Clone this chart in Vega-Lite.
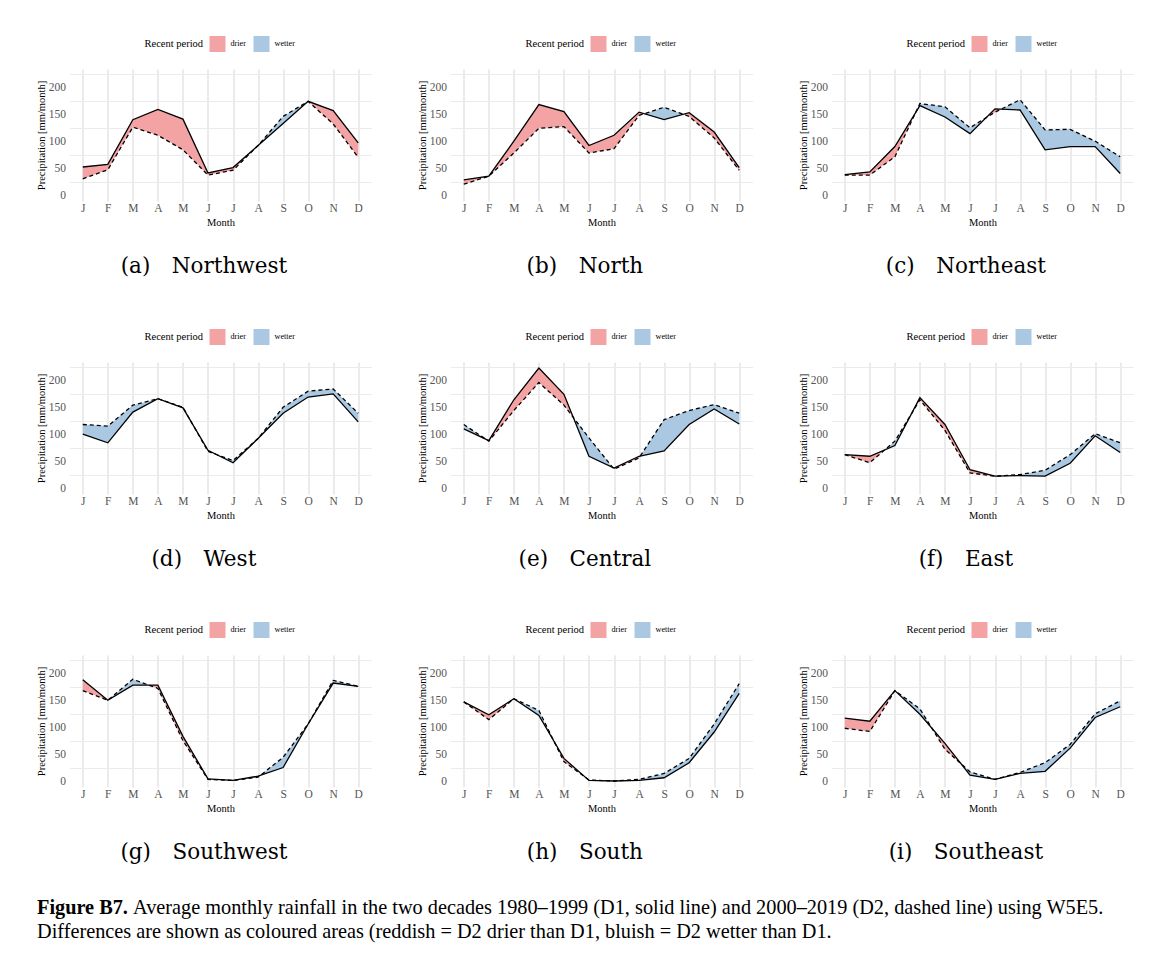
{
  "$schema": "https://vega.github.io/schema/vega-lite/v6.json",
  "background": "white",
  "padding": {"left": 35.5, "top": 36, "right": 5, "bottom": 5},
  "datasets": {
    "rain": [
      {"r":"Northwest","m":1,"d1":52,"d2":30,"pt":"month"},{"r":"Northwest","m":2,"d1":57,"d2":47,"pt":"month"},{"r":"Northwest","m":3,"d1":140,"d2":126,"pt":"month"},{"r":"Northwest","m":4,"d1":159,"d2":111,"pt":"month"},{"r":"Northwest","m":5,"d1":141,"d2":84,"pt":"month"},{"r":"Northwest","m":6,"d1":41,"d2":37,"pt":"month"},{"r":"Northwest","m":7,"d1":51,"d2":46,"pt":"month"},{"r":"Northwest","m":8,"d1":92,"d2":92,"pt":"month"},{"r":"Northwest","m":9,"d1":133,"d2":146,"pt":"month"},{"r":"Northwest","m":10,"d1":174,"d2":174,"pt":"month"},{"r":"Northwest","m":11,"d1":157,"d2":132,"pt":"month"},{"r":"Northwest","m":12,"d1":97,"d2":70,"pt":"month"},
      {"r":"North","m":1,"d1":28,"d2":20,"pt":"month"},{"r":"North","m":2,"d1":35,"d2":35,"pt":"month"},{"r":"North","m":3,"d1":100,"d2":78,"pt":"month"},{"r":"North","m":4,"d1":168,"d2":124,"pt":"month"},{"r":"North","m":5,"d1":155,"d2":127,"pt":"month"},{"r":"North","m":6,"d1":92,"d2":78,"pt":"month"},{"r":"North","m":7,"d1":111,"d2":86,"pt":"month"},{"r":"North","m":8,"d1":154,"d2":148,"pt":"month"},{"r":"North","m":9,"d1":140,"d2":163,"pt":"month"},{"r":"North","m":10,"d1":153,"d2":146,"pt":"month"},{"r":"North","m":11,"d1":117,"d2":106,"pt":"month"},{"r":"North","m":12,"d1":51,"d2":46,"pt":"month"},
      {"r":"North","m":8.2069,"d1":151.1,"d2":151.1,"pt":"cross"},{"r":"North","m":9.7667,"d1":149.97,"d2":149.97,"pt":"cross"},
      {"r":"Northeast","m":1,"d1":38,"d2":37,"pt":"month"},{"r":"Northeast","m":2,"d1":43,"d2":37,"pt":"month"},{"r":"Northeast","m":3,"d1":90,"d2":71,"pt":"month"},{"r":"Northeast","m":4,"d1":166,"d2":170,"pt":"month"},{"r":"Northeast","m":5,"d1":145,"d2":164,"pt":"month"},{"r":"Northeast","m":6,"d1":114,"d2":125,"pt":"month"},{"r":"Northeast","m":7,"d1":160,"d2":154,"pt":"month"},{"r":"Northeast","m":8,"d1":158,"d2":177,"pt":"month"},{"r":"Northeast","m":9,"d1":84,"d2":121,"pt":"month"},{"r":"Northeast","m":10,"d1":90,"d2":122,"pt":"month"},{"r":"Northeast","m":11,"d1":90,"d2":100,"pt":"month"},{"r":"Northeast","m":12,"d1":40,"d2":71,"pt":"month"},
      {"r":"Northeast","m":3.8261,"d1":152.78,"d2":152.78,"pt":"cross"},{"r":"Northeast","m":6.6471,"d1":143.76,"d2":143.76,"pt":"cross"},{"r":"Northeast","m":7.24,"d1":159.52,"d2":159.52,"pt":"cross"},
      {"r":"West","m":1,"d1":100,"d2":118,"pt":"month"},{"r":"West","m":2,"d1":84,"d2":115,"pt":"month"},{"r":"West","m":3,"d1":141,"d2":154,"pt":"month"},{"r":"West","m":4,"d1":166,"d2":166,"pt":"month"},{"r":"West","m":5,"d1":149,"d2":150,"pt":"month"},{"r":"West","m":6,"d1":70,"d2":68,"pt":"month"},{"r":"West","m":7,"d1":47,"d2":51,"pt":"month"},{"r":"West","m":8,"d1":92,"d2":92,"pt":"month"},{"r":"West","m":9,"d1":139,"d2":150,"pt":"month"},{"r":"West","m":10,"d1":169,"d2":180,"pt":"month"},{"r":"West","m":11,"d1":175,"d2":184,"pt":"month"},{"r":"West","m":12,"d1":123,"d2":139,"pt":"month"},
      {"r":"West","m":5.3333,"d1":122.667,"d2":122.667,"pt":"cross"},{"r":"West","m":6.3333,"d1":62.333,"d2":62.333,"pt":"cross"},
      {"r":"Central","m":1,"d1":110,"d2":118,"pt":"month"},{"r":"Central","m":2,"d1":88,"d2":87,"pt":"month"},{"r":"Central","m":3,"d1":164,"d2":144,"pt":"month"},{"r":"Central","m":4,"d1":223,"d2":196,"pt":"month"},{"r":"Central","m":5,"d1":174,"d2":154,"pt":"month"},{"r":"Central","m":6,"d1":59,"d2":93,"pt":"month"},{"r":"Central","m":7,"d1":37,"d2":35,"pt":"month"},{"r":"Central","m":8,"d1":59,"d2":56,"pt":"month"},{"r":"Central","m":9,"d1":69,"d2":127,"pt":"month"},{"r":"Central","m":10,"d1":118,"d2":144,"pt":"month"},{"r":"Central","m":11,"d1":147,"d2":155,"pt":"month"},{"r":"Central","m":12,"d1":119,"d2":139,"pt":"month"},
      {"r":"Central","m":1.8889,"d1":90.444,"d2":90.444,"pt":"cross"},{"r":"Central","m":5.3704,"d1":131.407,"d2":131.407,"pt":"cross"},{"r":"Central","m":6.9444,"d1":38.222,"d2":38.222,"pt":"cross"},{"r":"Central","m":8.0492,"d1":59.492,"d2":59.492,"pt":"cross"},
      {"r":"East","m":1,"d1":62,"d2":62,"pt":"month"},{"r":"East","m":2,"d1":59,"d2":47,"pt":"month"},{"r":"East","m":3,"d1":79,"d2":87,"pt":"month"},{"r":"East","m":4,"d1":168,"d2":164,"pt":"month"},{"r":"East","m":5,"d1":118,"d2":107,"pt":"month"},{"r":"East","m":6,"d1":34,"d2":28,"pt":"month"},{"r":"East","m":7,"d1":22,"d2":22,"pt":"month"},{"r":"East","m":8,"d1":23,"d2":25,"pt":"month"},{"r":"East","m":9,"d1":22,"d2":33,"pt":"month"},{"r":"East","m":10,"d1":46,"d2":62,"pt":"month"},{"r":"East","m":11,"d1":97,"d2":101,"pt":"month"},{"r":"East","m":12,"d1":66,"d2":84,"pt":"month"},
      {"r":"East","m":2.6,"d1":71,"d2":71,"pt":"cross"},{"r":"East","m":3.6667,"d1":138.333,"d2":138.333,"pt":"cross"},
      {"r":"Southwest","m":1,"d1":188,"d2":168,"pt":"month"},{"r":"Southwest","m":2,"d1":150,"d2":150,"pt":"month"},{"r":"Southwest","m":3,"d1":178,"d2":189,"pt":"month"},{"r":"Southwest","m":4,"d1":178,"d2":172,"pt":"month"},{"r":"Southwest","m":5,"d1":83,"d2":75,"pt":"month"},{"r":"Southwest","m":6,"d1":4,"d2":3,"pt":"month"},{"r":"Southwest","m":7,"d1":1,"d2":1,"pt":"month"},{"r":"Southwest","m":8,"d1":9,"d2":7,"pt":"month"},{"r":"Southwest","m":9,"d1":25,"d2":44,"pt":"month"},{"r":"Southwest","m":10,"d1":106,"d2":106,"pt":"month"},{"r":"Southwest","m":11,"d1":182,"d2":187,"pt":"month"},{"r":"Southwest","m":12,"d1":176,"d2":176,"pt":"month"},
      {"r":"Southwest","m":3.6471,"d1":178,"d2":178,"pt":"cross"},{"r":"Southwest","m":8.0952,"d1":10.524,"d2":10.524,"pt":"cross"},
      {"r":"South","m":1,"d1":147,"d2":147,"pt":"month"},{"r":"South","m":2,"d1":123,"d2":114,"pt":"month"},{"r":"South","m":3,"d1":153,"d2":153,"pt":"month"},{"r":"South","m":4,"d1":122,"d2":131,"pt":"month"},{"r":"South","m":5,"d1":42,"d2":36,"pt":"month"},{"r":"South","m":6,"d1":1,"d2":2,"pt":"month"},{"r":"South","m":7,"d1":0,"d2":0,"pt":"month"},{"r":"South","m":8,"d1":1,"d2":3,"pt":"month"},{"r":"South","m":9,"d1":6,"d2":14,"pt":"month"},{"r":"South","m":10,"d1":34,"d2":42,"pt":"month"},{"r":"South","m":11,"d1":91,"d2":106,"pt":"month"},{"r":"South","m":12,"d1":163,"d2":181,"pt":"month"},
      {"r":"South","m":4.6,"d1":74,"d2":74,"pt":"cross"},{"r":"South","m":5.8571,"d1":6.857,"d2":6.857,"pt":"cross"},
      {"r":"Southeast","m":1,"d1":117,"d2":98,"pt":"month"},{"r":"Southeast","m":2,"d1":111,"d2":92,"pt":"month"},{"r":"Southeast","m":3,"d1":168,"d2":168,"pt":"month"},{"r":"Southeast","m":4,"d1":124,"d2":134,"pt":"month"},{"r":"Southeast","m":5,"d1":70,"d2":59,"pt":"month"},{"r":"Southeast","m":6,"d1":11,"d2":17,"pt":"month"},{"r":"Southeast","m":7,"d1":3,"d2":3,"pt":"month"},{"r":"Southeast","m":8,"d1":14,"d2":16,"pt":"month"},{"r":"Southeast","m":9,"d1":18,"d2":34,"pt":"month"},{"r":"Southeast","m":10,"d1":61,"d2":68,"pt":"month"},{"r":"Southeast","m":11,"d1":118,"d2":125,"pt":"month"},{"r":"Southeast","m":12,"d1":138,"d2":149,"pt":"month"},
      {"r":"Southeast","m":4.4762,"d1":98.286,"d2":98.286,"pt":"cross"},{"r":"Southeast","m":5.6471,"d1":31.824,"d2":31.824,"pt":"cross"}
    ]
  },
  "vconcat": [
    {
      "columns": 3,
      "spacing": {"row": 52, "column": 45},
      "resolve": {"scale": {"color": "independent"}, "legend": {"color": "independent"}},
      "concat": [
        {"width": 302, "height": 132, "title": {"text": "(a)\u2003Northwest"}, "data": {"name": "rain"}, "transform": [{"filter": "datum.r === 'Northwest'"}],
         "encoding": {"x": {"field": "m", "type": "quantitative", "scale": {"domain": [0.47, 12.53], "nice": false, "zero": false}, "axis": {"values": [1,2,3,4,5,6,7,8,9,10,11,12], "tickCount": 24, "labelExpr": "['J','F','M','A','M','J','J','A','S','O','N','D'][datum.value - 1]", "title": "Month"}}},
         "layer": [
           {"transform": [{"filter": "datum.d1 >= datum.d2"}], "mark": {"type": "area", "opacity": 1}, "encoding": {"y": {"field": "d1", "type": "quantitative", "scale": {"domain": [-11.15, 234.15], "nice": false, "zero": false}, "axis": {"values": [25,75,125,175,225], "tickCount": 20, "labelExpr": "format(datum.value - 25, 'd')", "labelOffset": 13.46, "labelOverlap": false, "title": "Precipitation [mm/month]"}}, "y2": {"field": "d2"}, "color": {"datum": "drier", "type": "nominal", "scale": {"domain": ["drier", "wetter"], "range": ["#F4A3A5", "#ABC8E2"]}, "legend": {"title": "Recent period", "orient": "none", "legendX": 75, "legendY": -33, "direction": "horizontal", "titleOrient": "left"}}}},
           {"transform": [{"filter": "datum.d2 >= datum.d1"}], "mark": {"type": "area", "opacity": 1}, "encoding": {"y": {"field": "d2", "type": "quantitative"}, "y2": {"field": "d1"}, "color": {"datum": "wetter", "type": "nominal"}}},
           {"transform": [{"filter": "datum.pt === 'month'"}], "mark": {"type": "line", "color": "black", "strokeWidth": 1.3}, "encoding": {"y": {"field": "d1", "type": "quantitative"}}},
           {"transform": [{"filter": "datum.pt === 'month'"}], "mark": {"type": "line", "color": "black", "strokeWidth": 1.3, "strokeDash": [4, 3]}, "encoding": {"y": {"field": "d2", "type": "quantitative"}}}
         ]},
        {"width": 302, "height": 132, "title": {"text": "(b)\u2003North"}, "data": {"name": "rain"}, "transform": [{"filter": "datum.r === 'North'"}],
         "encoding": {"x": {"field": "m", "type": "quantitative", "scale": {"domain": [0.47, 12.53], "nice": false, "zero": false}, "axis": {"values": [1,2,3,4,5,6,7,8,9,10,11,12], "tickCount": 24, "labelExpr": "['J','F','M','A','M','J','J','A','S','O','N','D'][datum.value - 1]", "title": "Month"}}},
         "layer": [
           {"transform": [{"filter": "datum.d1 >= datum.d2"}], "mark": {"type": "area", "opacity": 1}, "encoding": {"y": {"field": "d1", "type": "quantitative", "scale": {"domain": [-11.15, 234.15], "nice": false, "zero": false}, "axis": {"values": [25,75,125,175,225], "tickCount": 20, "labelExpr": "format(datum.value - 25, 'd')", "labelOffset": 13.46, "labelOverlap": false, "title": "Precipitation [mm/month]"}}, "y2": {"field": "d2"}, "color": {"datum": "drier", "type": "nominal", "scale": {"domain": ["drier", "wetter"], "range": ["#F4A3A5", "#ABC8E2"]}, "legend": {"title": "Recent period", "orient": "none", "legendX": 75, "legendY": -33, "direction": "horizontal", "titleOrient": "left"}}}},
           {"transform": [{"filter": "datum.d2 >= datum.d1"}], "mark": {"type": "area", "opacity": 1}, "encoding": {"y": {"field": "d2", "type": "quantitative"}, "y2": {"field": "d1"}, "color": {"datum": "wetter", "type": "nominal"}}},
           {"transform": [{"filter": "datum.pt === 'month'"}], "mark": {"type": "line", "color": "black", "strokeWidth": 1.3}, "encoding": {"y": {"field": "d1", "type": "quantitative"}}},
           {"transform": [{"filter": "datum.pt === 'month'"}], "mark": {"type": "line", "color": "black", "strokeWidth": 1.3, "strokeDash": [4, 3]}, "encoding": {"y": {"field": "d2", "type": "quantitative"}}}
         ]},
        {"width": 302, "height": 132, "title": {"text": "(c)\u2003Northeast"}, "data": {"name": "rain"}, "transform": [{"filter": "datum.r === 'Northeast'"}],
         "encoding": {"x": {"field": "m", "type": "quantitative", "scale": {"domain": [0.47, 12.53], "nice": false, "zero": false}, "axis": {"values": [1,2,3,4,5,6,7,8,9,10,11,12], "tickCount": 24, "labelExpr": "['J','F','M','A','M','J','J','A','S','O','N','D'][datum.value - 1]", "title": "Month"}}},
         "layer": [
           {"transform": [{"filter": "datum.d1 >= datum.d2"}], "mark": {"type": "area", "opacity": 1}, "encoding": {"y": {"field": "d1", "type": "quantitative", "scale": {"domain": [-11.15, 234.15], "nice": false, "zero": false}, "axis": {"values": [25,75,125,175,225], "tickCount": 20, "labelExpr": "format(datum.value - 25, 'd')", "labelOffset": 13.46, "labelOverlap": false, "title": "Precipitation [mm/month]"}}, "y2": {"field": "d2"}, "color": {"datum": "drier", "type": "nominal", "scale": {"domain": ["drier", "wetter"], "range": ["#F4A3A5", "#ABC8E2"]}, "legend": {"title": "Recent period", "orient": "none", "legendX": 75, "legendY": -33, "direction": "horizontal", "titleOrient": "left"}}}},
           {"transform": [{"filter": "datum.d2 >= datum.d1"}], "mark": {"type": "area", "opacity": 1}, "encoding": {"y": {"field": "d2", "type": "quantitative"}, "y2": {"field": "d1"}, "color": {"datum": "wetter", "type": "nominal"}}},
           {"transform": [{"filter": "datum.pt === 'month'"}], "mark": {"type": "line", "color": "black", "strokeWidth": 1.3}, "encoding": {"y": {"field": "d1", "type": "quantitative"}}},
           {"transform": [{"filter": "datum.pt === 'month'"}], "mark": {"type": "line", "color": "black", "strokeWidth": 1.3, "strokeDash": [4, 3]}, "encoding": {"y": {"field": "d2", "type": "quantitative"}}}
         ]},
        {"width": 302, "height": 132, "title": {"text": "(d)\u2003West"}, "data": {"name": "rain"}, "transform": [{"filter": "datum.r === 'West'"}],
         "encoding": {"x": {"field": "m", "type": "quantitative", "scale": {"domain": [0.47, 12.53], "nice": false, "zero": false}, "axis": {"values": [1,2,3,4,5,6,7,8,9,10,11,12], "tickCount": 24, "labelExpr": "['J','F','M','A','M','J','J','A','S','O','N','D'][datum.value - 1]", "title": "Month"}}},
         "layer": [
           {"transform": [{"filter": "datum.d1 >= datum.d2"}], "mark": {"type": "area", "opacity": 1}, "encoding": {"y": {"field": "d1", "type": "quantitative", "scale": {"domain": [-11.15, 234.15], "nice": false, "zero": false}, "axis": {"values": [25,75,125,175,225], "tickCount": 20, "labelExpr": "format(datum.value - 25, 'd')", "labelOffset": 13.46, "labelOverlap": false, "title": "Precipitation [mm/month]"}}, "y2": {"field": "d2"}, "color": {"datum": "drier", "type": "nominal", "scale": {"domain": ["drier", "wetter"], "range": ["#F4A3A5", "#ABC8E2"]}, "legend": {"title": "Recent period", "orient": "none", "legendX": 75, "legendY": -33, "direction": "horizontal", "titleOrient": "left"}}}},
           {"transform": [{"filter": "datum.d2 >= datum.d1"}], "mark": {"type": "area", "opacity": 1}, "encoding": {"y": {"field": "d2", "type": "quantitative"}, "y2": {"field": "d1"}, "color": {"datum": "wetter", "type": "nominal"}}},
           {"transform": [{"filter": "datum.pt === 'month'"}], "mark": {"type": "line", "color": "black", "strokeWidth": 1.3}, "encoding": {"y": {"field": "d1", "type": "quantitative"}}},
           {"transform": [{"filter": "datum.pt === 'month'"}], "mark": {"type": "line", "color": "black", "strokeWidth": 1.3, "strokeDash": [4, 3]}, "encoding": {"y": {"field": "d2", "type": "quantitative"}}}
         ]},
        {"width": 302, "height": 132, "title": {"text": "(e)\u2003Central"}, "data": {"name": "rain"}, "transform": [{"filter": "datum.r === 'Central'"}],
         "encoding": {"x": {"field": "m", "type": "quantitative", "scale": {"domain": [0.47, 12.53], "nice": false, "zero": false}, "axis": {"values": [1,2,3,4,5,6,7,8,9,10,11,12], "tickCount": 24, "labelExpr": "['J','F','M','A','M','J','J','A','S','O','N','D'][datum.value - 1]", "title": "Month"}}},
         "layer": [
           {"transform": [{"filter": "datum.d1 >= datum.d2"}], "mark": {"type": "area", "opacity": 1}, "encoding": {"y": {"field": "d1", "type": "quantitative", "scale": {"domain": [-11.15, 234.15], "nice": false, "zero": false}, "axis": {"values": [25,75,125,175,225], "tickCount": 20, "labelExpr": "format(datum.value - 25, 'd')", "labelOffset": 13.46, "labelOverlap": false, "title": "Precipitation [mm/month]"}}, "y2": {"field": "d2"}, "color": {"datum": "drier", "type": "nominal", "scale": {"domain": ["drier", "wetter"], "range": ["#F4A3A5", "#ABC8E2"]}, "legend": {"title": "Recent period", "orient": "none", "legendX": 75, "legendY": -33, "direction": "horizontal", "titleOrient": "left"}}}},
           {"transform": [{"filter": "datum.d2 >= datum.d1"}], "mark": {"type": "area", "opacity": 1}, "encoding": {"y": {"field": "d2", "type": "quantitative"}, "y2": {"field": "d1"}, "color": {"datum": "wetter", "type": "nominal"}}},
           {"transform": [{"filter": "datum.pt === 'month'"}], "mark": {"type": "line", "color": "black", "strokeWidth": 1.3}, "encoding": {"y": {"field": "d1", "type": "quantitative"}}},
           {"transform": [{"filter": "datum.pt === 'month'"}], "mark": {"type": "line", "color": "black", "strokeWidth": 1.3, "strokeDash": [4, 3]}, "encoding": {"y": {"field": "d2", "type": "quantitative"}}}
         ]},
        {"width": 302, "height": 132, "title": {"text": "(f)\u2003East"}, "data": {"name": "rain"}, "transform": [{"filter": "datum.r === 'East'"}],
         "encoding": {"x": {"field": "m", "type": "quantitative", "scale": {"domain": [0.47, 12.53], "nice": false, "zero": false}, "axis": {"values": [1,2,3,4,5,6,7,8,9,10,11,12], "tickCount": 24, "labelExpr": "['J','F','M','A','M','J','J','A','S','O','N','D'][datum.value - 1]", "title": "Month"}}},
         "layer": [
           {"transform": [{"filter": "datum.d1 >= datum.d2"}], "mark": {"type": "area", "opacity": 1}, "encoding": {"y": {"field": "d1", "type": "quantitative", "scale": {"domain": [-11.15, 234.15], "nice": false, "zero": false}, "axis": {"values": [25,75,125,175,225], "tickCount": 20, "labelExpr": "format(datum.value - 25, 'd')", "labelOffset": 13.46, "labelOverlap": false, "title": "Precipitation [mm/month]"}}, "y2": {"field": "d2"}, "color": {"datum": "drier", "type": "nominal", "scale": {"domain": ["drier", "wetter"], "range": ["#F4A3A5", "#ABC8E2"]}, "legend": {"title": "Recent period", "orient": "none", "legendX": 75, "legendY": -33, "direction": "horizontal", "titleOrient": "left"}}}},
           {"transform": [{"filter": "datum.d2 >= datum.d1"}], "mark": {"type": "area", "opacity": 1}, "encoding": {"y": {"field": "d2", "type": "quantitative"}, "y2": {"field": "d1"}, "color": {"datum": "wetter", "type": "nominal"}}},
           {"transform": [{"filter": "datum.pt === 'month'"}], "mark": {"type": "line", "color": "black", "strokeWidth": 1.3}, "encoding": {"y": {"field": "d1", "type": "quantitative"}}},
           {"transform": [{"filter": "datum.pt === 'month'"}], "mark": {"type": "line", "color": "black", "strokeWidth": 1.3, "strokeDash": [4, 3]}, "encoding": {"y": {"field": "d2", "type": "quantitative"}}}
         ]},
        {"width": 302, "height": 132, "title": {"text": "(g)\u2003Southwest"}, "data": {"name": "rain"}, "transform": [{"filter": "datum.r === 'Southwest'"}],
         "encoding": {"x": {"field": "m", "type": "quantitative", "scale": {"domain": [0.47, 12.53], "nice": false, "zero": false}, "axis": {"values": [1,2,3,4,5,6,7,8,9,10,11,12], "tickCount": 24, "labelExpr": "['J','F','M','A','M','J','J','A','S','O','N','D'][datum.value - 1]", "title": "Month"}}},
         "layer": [
           {"transform": [{"filter": "datum.d1 >= datum.d2"}], "mark": {"type": "area", "opacity": 1}, "encoding": {"y": {"field": "d1", "type": "quantitative", "scale": {"domain": [-11.15, 234.15], "nice": false, "zero": false}, "axis": {"values": [25,75,125,175,225], "tickCount": 20, "labelExpr": "format(datum.value - 25, 'd')", "labelOffset": 13.46, "labelOverlap": false, "title": "Precipitation [mm/month]"}}, "y2": {"field": "d2"}, "color": {"datum": "drier", "type": "nominal", "scale": {"domain": ["drier", "wetter"], "range": ["#F4A3A5", "#ABC8E2"]}, "legend": {"title": "Recent period", "orient": "none", "legendX": 75, "legendY": -33, "direction": "horizontal", "titleOrient": "left"}}}},
           {"transform": [{"filter": "datum.d2 >= datum.d1"}], "mark": {"type": "area", "opacity": 1}, "encoding": {"y": {"field": "d2", "type": "quantitative"}, "y2": {"field": "d1"}, "color": {"datum": "wetter", "type": "nominal"}}},
           {"transform": [{"filter": "datum.pt === 'month'"}], "mark": {"type": "line", "color": "black", "strokeWidth": 1.3}, "encoding": {"y": {"field": "d1", "type": "quantitative"}}},
           {"transform": [{"filter": "datum.pt === 'month'"}], "mark": {"type": "line", "color": "black", "strokeWidth": 1.3, "strokeDash": [4, 3]}, "encoding": {"y": {"field": "d2", "type": "quantitative"}}}
         ]},
        {"width": 302, "height": 132, "title": {"text": "(h)\u2003South"}, "data": {"name": "rain"}, "transform": [{"filter": "datum.r === 'South'"}],
         "encoding": {"x": {"field": "m", "type": "quantitative", "scale": {"domain": [0.47, 12.53], "nice": false, "zero": false}, "axis": {"values": [1,2,3,4,5,6,7,8,9,10,11,12], "tickCount": 24, "labelExpr": "['J','F','M','A','M','J','J','A','S','O','N','D'][datum.value - 1]", "title": "Month"}}},
         "layer": [
           {"transform": [{"filter": "datum.d1 >= datum.d2"}], "mark": {"type": "area", "opacity": 1}, "encoding": {"y": {"field": "d1", "type": "quantitative", "scale": {"domain": [-11.15, 234.15], "nice": false, "zero": false}, "axis": {"values": [25,75,125,175,225], "tickCount": 20, "labelExpr": "format(datum.value - 25, 'd')", "labelOffset": 13.46, "labelOverlap": false, "title": "Precipitation [mm/month]"}}, "y2": {"field": "d2"}, "color": {"datum": "drier", "type": "nominal", "scale": {"domain": ["drier", "wetter"], "range": ["#F4A3A5", "#ABC8E2"]}, "legend": {"title": "Recent period", "orient": "none", "legendX": 75, "legendY": -33, "direction": "horizontal", "titleOrient": "left"}}}},
           {"transform": [{"filter": "datum.d2 >= datum.d1"}], "mark": {"type": "area", "opacity": 1}, "encoding": {"y": {"field": "d2", "type": "quantitative"}, "y2": {"field": "d1"}, "color": {"datum": "wetter", "type": "nominal"}}},
           {"transform": [{"filter": "datum.pt === 'month'"}], "mark": {"type": "line", "color": "black", "strokeWidth": 1.3}, "encoding": {"y": {"field": "d1", "type": "quantitative"}}},
           {"transform": [{"filter": "datum.pt === 'month'"}], "mark": {"type": "line", "color": "black", "strokeWidth": 1.3, "strokeDash": [4, 3]}, "encoding": {"y": {"field": "d2", "type": "quantitative"}}}
         ]},
        {"width": 302, "height": 132, "title": {"text": "(i)\u2003Southeast"}, "data": {"name": "rain"}, "transform": [{"filter": "datum.r === 'Southeast'"}],
         "encoding": {"x": {"field": "m", "type": "quantitative", "scale": {"domain": [0.47, 12.53], "nice": false, "zero": false}, "axis": {"values": [1,2,3,4,5,6,7,8,9,10,11,12], "tickCount": 24, "labelExpr": "['J','F','M','A','M','J','J','A','S','O','N','D'][datum.value - 1]", "title": "Month"}}},
         "layer": [
           {"transform": [{"filter": "datum.d1 >= datum.d2"}], "mark": {"type": "area", "opacity": 1}, "encoding": {"y": {"field": "d1", "type": "quantitative", "scale": {"domain": [-11.15, 234.15], "nice": false, "zero": false}, "axis": {"values": [25,75,125,175,225], "tickCount": 20, "labelExpr": "format(datum.value - 25, 'd')", "labelOffset": 13.46, "labelOverlap": false, "title": "Precipitation [mm/month]"}}, "y2": {"field": "d2"}, "color": {"datum": "drier", "type": "nominal", "scale": {"domain": ["drier", "wetter"], "range": ["#F4A3A5", "#ABC8E2"]}, "legend": {"title": "Recent period", "orient": "none", "legendX": 75, "legendY": -33, "direction": "horizontal", "titleOrient": "left"}}}},
           {"transform": [{"filter": "datum.d2 >= datum.d1"}], "mark": {"type": "area", "opacity": 1}, "encoding": {"y": {"field": "d2", "type": "quantitative"}, "y2": {"field": "d1"}, "color": {"datum": "wetter", "type": "nominal"}}},
           {"transform": [{"filter": "datum.pt === 'month'"}], "mark": {"type": "line", "color": "black", "strokeWidth": 1.3}, "encoding": {"y": {"field": "d1", "type": "quantitative"}}},
           {"transform": [{"filter": "datum.pt === 'month'"}], "mark": {"type": "line", "color": "black", "strokeWidth": 1.3, "strokeDash": [4, 3]}, "encoding": {"y": {"field": "d2", "type": "quantitative"}}}
         ]}
      ]
    },
    {
      "width": 1100, "height": 46,
      "data": {"values": [{"a": "Figure B7.", "b": "Average monthly rainfall in the two decades 1980–1999 (D1, solid line) and 2000–2019 (D2, dashed line) using W5E5.", "c": "Differences are shown as coloured areas (reddish = D2 drier than D1, bluish = D2 wetter than D1."}]},
      "layer": [
        {"mark": {"type": "text", "x": -32.5, "y": 10, "align": "left", "baseline": "middle", "font": "Liberation Serif", "fontSize": 20.3, "fontWeight": "bold", "color": "#000"}, "encoding": {"text": {"field": "a"}}},
        {"mark": {"type": "text", "x": 63.5, "y": 10, "align": "left", "baseline": "middle", "font": "Liberation Serif", "fontSize": 20.3, "color": "#000"}, "encoding": {"text": {"field": "b"}}},
        {"mark": {"type": "text", "x": -32.5, "y": 33.5, "align": "left", "baseline": "middle", "font": "Liberation Serif", "fontSize": 20.3, "color": "#000"}, "encoding": {"text": {"field": "c"}}}
      ]
    }
  ],
  "spacing": 35,
  "config": {
    "view": {"stroke": null},
    "font": "Liberation Serif",
    "title": {"font": "DejaVu Serif", "fontSize": 21.5, "fontWeight": "normal", "orient": "bottom", "offset": 28, "color": "#000", "frame": "bounds", "anchor": "middle"},
    "axis": {"labelFont": "Liberation Serif", "titleFont": "Liberation Serif", "labelColor": "#555555", "titleColor": "#000000", "titleFontWeight": "normal", "titleFontSize": 10.5, "labelFontSize": 11.5, "ticks": false, "domain": false, "gridColor": "#EBEBEB"},
    "axisX": {"gridWidth": 2, "labelPadding": 1.5, "titlePadding": 3},
    "axisY": {"gridWidth": 1.2, "labelPadding": 4, "titlePadding": 2},
    "legend": {"titleFont": "Liberation Serif", "titleFontSize": 10.5, "titleFontWeight": "normal", "titleColor": "#000", "labelFont": "Liberation Serif", "labelFontSize": 8.2, "labelColor": "#000", "symbolType": "square", "symbolSize": 256, "symbolStrokeWidth": 0, "symbolOpacity": 1, "labelOffset": 5, "columnPadding": 7, "titlePadding": 6}
  }
}
